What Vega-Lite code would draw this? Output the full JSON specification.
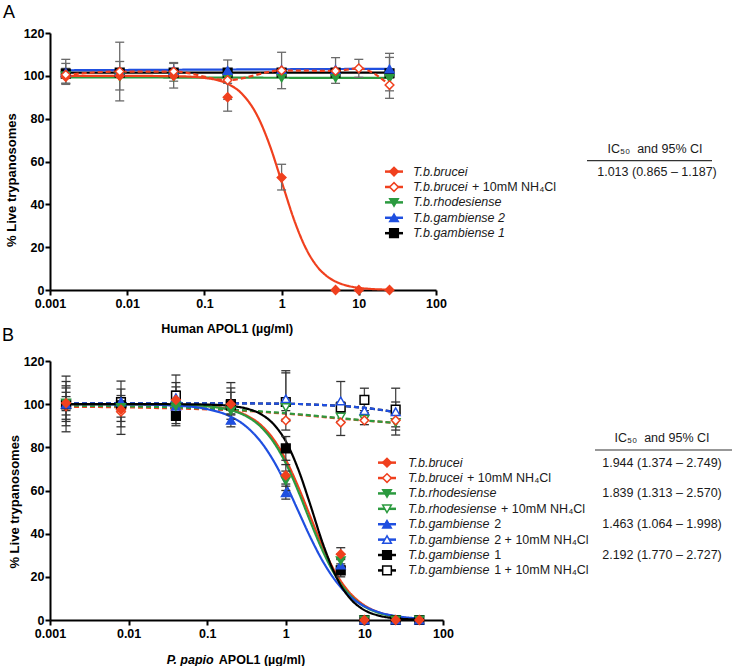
{
"$schema": "https://vega.github.io/schema/vega-lite/v6.json",
"background": "white",
"padding": {"left": 2, "top": 4, "right": 0, "bottom": 0},
"bounds": "flush",
"spacing": 71,
"config": {
  "view": {"stroke": null},
  "axis": {"domainColor": "#000", "domainWidth": 2, "tickColor": "#000", "tickWidth": 2, "tickSize": 5, "labelFont": "Liberation Sans", "labelFontSize": 12.5, "labelFontWeight": "bold", "labelColor": "#000", "titleFont": "Liberation Sans", "titleFontSize": 12.5, "titleFontWeight": "bold", "titleColor": "#000", "grid": false, "labelFlush": false, "labelOverlap": false},
  "axisY": {"labelPadding": 1},
  "axisX": {"labelPadding": 2}
},
"datasets": {
  "ptsA": [
    {"s":"gamb1","x":0.0016,"y":101},{"s":"gamb1","x":0.008,"y":101.5},{"s":"gamb1","x":0.04,"y":101.5},{"s":"gamb1","x":0.2,"y":101.5},{"s":"gamb1","x":1,"y":101.5},{"s":"gamb1","x":5,"y":101.5},{"s":"gamb1","x":25,"y":101.2},
    {"s":"rhod","x":0.0016,"y":100},{"s":"rhod","x":0.008,"y":99.5},{"s":"rhod","x":0.04,"y":99.5},{"s":"rhod","x":0.2,"y":99},{"s":"rhod","x":1,"y":99},{"s":"rhod","x":5,"y":99},{"s":"rhod","x":25,"y":98.8},
    {"s":"gamb2","x":0.0016,"y":101.5},{"s":"gamb2","x":0.008,"y":102},{"s":"gamb2","x":0.04,"y":102.5},{"s":"gamb2","x":0.2,"y":102.5},{"s":"gamb2","x":1,"y":103},{"s":"gamb2","x":5,"y":103},{"s":"gamb2","x":25,"y":103.2},
    {"s":"brucei","x":0.0016,"y":99.5},{"s":"brucei","x":0.008,"y":100},{"s":"brucei","x":0.04,"y":100},{"s":"brucei","x":0.2,"y":90},{"s":"brucei","x":1,"y":52.5},{"s":"brucei","x":5,"y":0},{"s":"brucei","x":10,"y":0},{"s":"brucei","x":25,"y":0},
    {"s":"bruceiN","x":0.0016,"y":100.5},{"s":"bruceiN","x":0.008,"y":102},{"s":"bruceiN","x":0.04,"y":102},{"s":"bruceiN","x":0.2,"y":98},{"s":"bruceiN","x":1,"y":102.5},{"s":"bruceiN","x":5,"y":102.3},{"s":"bruceiN","x":10,"y":103.5},{"s":"bruceiN","x":25,"y":95.7}
  ],
  "lineA": [
    {"s":"gamb1","x":0.0016,"y":101.5},{"s":"gamb1","x":25,"y":101.5},
    {"s":"rhod","x":0.0016,"y":99.3},{"s":"rhod","x":25,"y":99.0},
    {"s":"gamb2","x":0.0016,"y":102.6},{"s":"gamb2","x":25,"y":103.3},
    {"s":"bruceiN","x":0.0016,"y":100.5},{"s":"bruceiN","x":0.008,"y":102},{"s":"bruceiN","x":0.04,"y":102},{"s":"bruceiN","x":0.2,"y":98},{"s":"bruceiN","x":1,"y":102.5},{"s":"bruceiN","x":5,"y":102.3},{"s":"bruceiN","x":10,"y":103.5},{"s":"bruceiN","x":25,"y":95.7},
    {"s":"brucei","x":0.0016,"y":100},{"s":"brucei","x":0.01,"y":99.99},{"s":"brucei","x":0.05,"y":99.76},{"s":"brucei","x":0.1,"y":99.03},{"s":"brucei","x":0.2,"y":96.25},{"s":"brucei","x":0.3,"y":91.94},{"s":"brucei","x":0.5,"y":80.41},{"s":"brucei","x":0.7,"y":67.68},{"s":"brucei","x":1,"y":50.65},{"s":"brucei","x":1.5,"y":31.32},{"s":"brucei","x":2,"y":20.42},{"s":"brucei","x":3,"y":10.23},{"s":"brucei","x":4,"y":6.03},{"s":"brucei","x":5,"y":3.94},{"s":"brucei","x":7,"y":2.05},{"s":"brucei","x":10,"y":1.02},{"s":"brucei","x":15,"y":0.45},{"s":"brucei","x":25,"y":0.16}
  ],
  "errA": [
    {"s":"brucei","x":0.0016,"lo":96.5,"hi":103.5},{"s":"brucei","x":0.008,"lo":93.4,"hi":106.7},{"s":"brucei","x":0.04,"lo":94.3,"hi":105.8},{"s":"brucei","x":0.2,"lo":83.5,"hi":96.5},{"s":"brucei","x":1,"lo":46.7,"hi":58.7},
    {"s":"bruceiN","x":0.0016,"lo":96,"hi":105.8},{"s":"bruceiN","x":0.008,"lo":88.3,"hi":115.7},{"s":"bruceiN","x":0.04,"lo":97.5,"hi":106.2},{"s":"bruceiN","x":0.2,"lo":89,"hi":107.4},{"s":"bruceiN","x":1,"lo":94,"hi":111},{"s":"bruceiN","x":5,"lo":96.5,"hi":108.5},{"s":"bruceiN","x":10,"lo":99.3,"hi":107.7},{"s":"bruceiN","x":25,"lo":89.5,"hi":101.9},
    {"s":"gamb1","x":0.0016,"lo":96.5,"hi":107.7},{"s":"gamb1","x":25,"lo":93,"hi":110.5},
    {"s":"gamb2","x":25,"lo":99,"hi":108.6}
  ],
  "ptsB": [
    {"s":"gamb1N","x":0.0016,"y":100},{"s":"gamb1N","x":0.008,"y":101},{"s":"gamb1N","x":0.04,"y":104},{"s":"gamb1N","x":0.2,"y":100},{"s":"gamb1N","x":1,"y":101},{"s":"gamb1N","x":5,"y":98.5},{"s":"gamb1N","x":10,"y":102},{"s":"gamb1N","x":25,"y":97.5},
    {"s":"gamb2N","x":0.0016,"y":100},{"s":"gamb2N","x":0.008,"y":101},{"s":"gamb2N","x":0.04,"y":103},{"s":"gamb2N","x":0.2,"y":100},{"s":"gamb2N","x":1,"y":102.5},{"s":"gamb2N","x":5,"y":101.5},{"s":"gamb2N","x":10,"y":97},{"s":"gamb2N","x":25,"y":96.5},
    {"s":"rhodN","x":0.0016,"y":99.5},{"s":"rhodN","x":0.008,"y":98},{"s":"rhodN","x":0.04,"y":98},{"s":"rhodN","x":0.2,"y":97.5},{"s":"rhodN","x":1,"y":98.5},{"s":"rhodN","x":5,"y":94},{"s":"rhodN","x":10,"y":93},{"s":"rhodN","x":25,"y":91.5},
    {"s":"bruceiN","x":0.0016,"y":99},{"s":"bruceiN","x":0.008,"y":96.5},{"s":"bruceiN","x":0.04,"y":97},{"s":"bruceiN","x":0.2,"y":99.5},{"s":"bruceiN","x":1,"y":92.5},{"s":"bruceiN","x":5,"y":91.5},{"s":"bruceiN","x":10,"y":92.5},{"s":"bruceiN","x":25,"y":92.5},
    {"s":"gamb1","x":0.0016,"y":100},{"s":"gamb1","x":0.008,"y":99.5},{"s":"gamb1","x":0.04,"y":94.5},{"s":"gamb1","x":0.2,"y":99.5},{"s":"gamb1","x":1,"y":79.5},{"s":"gamb1","x":5,"y":23},{"s":"gamb1","x":10,"y":0},{"s":"gamb1","x":25,"y":0},{"s":"gamb1","x":50,"y":0},
    {"s":"gamb2","x":0.0016,"y":100},{"s":"gamb2","x":0.008,"y":101},{"s":"gamb2","x":0.04,"y":99},{"s":"gamb2","x":0.2,"y":92.5},{"s":"gamb2","x":1,"y":59},{"s":"gamb2","x":5,"y":25.5},{"s":"gamb2","x":10,"y":0},{"s":"gamb2","x":25,"y":0},{"s":"gamb2","x":50,"y":0},
    {"s":"rhod","x":0.0016,"y":100.5},{"s":"rhod","x":0.008,"y":98.5},{"s":"rhod","x":0.04,"y":99},{"s":"rhod","x":0.2,"y":97},{"s":"rhod","x":1,"y":64.5},{"s":"rhod","x":5,"y":27.5},{"s":"rhod","x":10,"y":0},{"s":"rhod","x":25,"y":0},{"s":"rhod","x":50,"y":0},
    {"s":"brucei","x":0.0016,"y":100.5},{"s":"brucei","x":0.008,"y":97.5},{"s":"brucei","x":0.04,"y":102},{"s":"brucei","x":0.2,"y":100},{"s":"brucei","x":1,"y":67},{"s":"brucei","x":5,"y":30.5},{"s":"brucei","x":10,"y":0},{"s":"brucei","x":25,"y":0},{"s":"brucei","x":50,"y":0}
  ],
  "lineB": [
    {"s":"gamb1N","x":0.0016,"y":100.4},{"s":"gamb1N","x":0.1,"y":100.4},{"s":"gamb1N","x":1,"y":100.2},{"s":"gamb1N","x":3,"y":99.6},{"s":"gamb1N","x":5,"y":99.2},{"s":"gamb1N","x":10,"y":98.3},{"s":"gamb1N","x":25,"y":96.3},
    {"s":"bruceiN","x":0.0016,"y":98.8},{"s":"bruceiN","x":0.01,"y":98.5},{"s":"bruceiN","x":0.04,"y":98},{"s":"bruceiN","x":0.2,"y":97.2},{"s":"bruceiN","x":1,"y":95.6},{"s":"bruceiN","x":5,"y":93.3},{"s":"bruceiN","x":10,"y":92.4},{"s":"bruceiN","x":25,"y":91.3},
    {"s":"rhodN","x":0.0016,"y":99.3},{"s":"rhodN","x":0.01,"y":99},{"s":"rhodN","x":0.04,"y":98.5},{"s":"rhodN","x":0.2,"y":97.5},{"s":"rhodN","x":1,"y":95.8},{"s":"rhodN","x":5,"y":93.5},{"s":"rhodN","x":10,"y":92.5},{"s":"rhodN","x":25,"y":91.3},
    {"s":"gamb2N","x":0.0016,"y":100.4},{"s":"gamb2N","x":0.1,"y":100.4},{"s":"gamb2N","x":1,"y":100.2},{"s":"gamb2N","x":3,"y":99.6},{"s":"gamb2N","x":5,"y":99.2},{"s":"gamb2N","x":10,"y":98.3},{"s":"gamb2N","x":25,"y":96.3},
    {"s":"brucei","x":0.0016,"y":100},{"s":"brucei","x":0.01,"y":99.98},{"s":"brucei","x":0.05,"y":99.7},{"s":"brucei","x":0.1,"y":99.14},{"s":"brucei","x":0.2,"y":97.4},{"s":"brucei","x":0.3,"y":95.2},{"s":"brucei","x":0.5,"y":89.8},{"s":"brucei","x":0.7,"y":83.7},{"s":"brucei","x":1,"y":74.3},{"s":"brucei","x":1.5,"y":60.2},{"s":"brucei","x":2,"y":48.9},{"s":"brucei","x":3,"y":33.3},{"s":"brucei","x":4,"y":24},{"s":"brucei","x":5,"y":18.1},{"s":"brucei","x":7,"y":11.4},{"s":"brucei","x":10,"y":6.8},{"s":"brucei","x":15,"y":3.66},{"s":"brucei","x":25,"y":1.65},{"s":"brucei","x":50,"y":0.55},
    {"s":"rhod","x":0.0016,"y":100},{"s":"rhod","x":0.01,"y":99.98},{"s":"rhod","x":0.05,"y":99.69},{"s":"rhod","x":0.1,"y":99.06},{"s":"rhod","x":0.2,"y":97.2},{"s":"rhod","x":0.3,"y":94.8},{"s":"rhod","x":0.5,"y":88.9},{"s":"rhod","x":0.7,"y":82.4},{"s":"rhod","x":1,"y":72.6},{"s":"rhod","x":1.5,"y":58.1},{"s":"rhod","x":2,"y":46.6},{"s":"rhod","x":3,"y":31.4},{"s":"rhod","x":4,"y":22.4},{"s":"rhod","x":5,"y":16.8},{"s":"rhod","x":7,"y":10.5},{"s":"rhod","x":10,"y":6.24},{"s":"rhod","x":15,"y":3.36},{"s":"rhod","x":25,"y":1.51},{"s":"rhod","x":50,"y":0.5},
    {"s":"gamb2","x":0.0016,"y":99.99},{"s":"gamb2","x":0.01,"y":99.91},{"s":"gamb2","x":0.05,"y":99.12},{"s":"gamb2","x":0.1,"y":97.7},{"s":"gamb2","x":0.2,"y":94.2},{"s":"gamb2","x":0.3,"y":90.2},{"s":"gamb2","x":0.5,"y":81.8},{"s":"gamb2","x":0.7,"y":73.7},{"s":"gamb2","x":1,"y":63},{"s":"gamb2","x":1.5,"y":49.1},{"s":"gamb2","x":2,"y":39.2},{"s":"gamb2","x":3,"y":26.8},{"s":"gamb2","x":4,"y":19.7},{"s":"gamb2","x":5,"y":15.2},{"s":"gamb2","x":7,"y":10.05},{"s":"gamb2","x":10,"y":6.37},{"s":"gamb2","x":15,"y":3.7},{"s":"gamb2","x":25,"y":1.85},{"s":"gamb2","x":50,"y":0.71},
    {"s":"gamb1","x":0.0016,"y":100},{"s":"gamb1","x":0.01,"y":100},{"s":"gamb1","x":0.05,"y":99.95},{"s":"gamb1","x":0.1,"y":99.79},{"s":"gamb1","x":0.2,"y":99.17},{"s":"gamb1","x":0.3,"y":98.16},{"s":"gamb1","x":0.5,"y":95.05},{"s":"gamb1","x":0.7,"y":90.7},{"s":"gamb1","x":1,"y":82.8},{"s":"gamb1","x":1.5,"y":68.1},{"s":"gamb1","x":2,"y":54.6},{"s":"gamb1","x":3,"y":34.8},{"s":"gamb1","x":4,"y":23.1},{"s":"gamb1","x":5,"y":16.1},{"s":"gamb1","x":7,"y":8.93},{"s":"gamb1","x":10,"y":4.58},{"s":"gamb1","x":15,"y":2.09},{"s":"gamb1","x":25,"y":0.76},{"s":"gamb1","x":50,"y":0.19}
  ],
  "errB": [
    {"s":"rhodN","x":0.0016,"lo":87.2,"hi":113},{"s":"bruceiN","x":0.0016,"lo":90,"hi":110.5},{"s":"gamb2N","x":0.0016,"lo":92,"hi":108.5},{"s":"gamb2","x":0.0016,"lo":93,"hi":107.5},{"s":"gamb1","x":0.0016,"lo":95,"hi":105.5},{"s":"brucei","x":0.0016,"lo":97,"hi":103.5},
    {"s":"rhodN","x":0.008,"lo":86,"hi":110.7},{"s":"bruceiN","x":0.008,"lo":89.5,"hi":107},{"s":"gamb2","x":0.008,"lo":92,"hi":104},{"s":"brucei","x":0.008,"lo":94,"hi":102},
    {"s":"gamb1N","x":0.04,"lo":90,"hi":113.5},{"s":"gamb2N","x":0.04,"lo":91,"hi":110},{"s":"brucei","x":0.04,"lo":92.5,"hi":108},{"s":"rhod","x":0.04,"lo":95,"hi":106},
    {"s":"gamb1N","x":0.2,"lo":91,"hi":110},{"s":"gamb2N","x":0.2,"lo":93,"hi":107.5},{"s":"brucei","x":0.2,"lo":95,"hi":105.5},{"s":"gamb2","x":0.2,"lo":89.5,"hi":95.5},
    {"s":"gamb2N","x":1,"lo":93,"hi":115.5},{"s":"gamb1N","x":1,"lo":92,"hi":114.5},{"s":"gamb1","x":1,"lo":74,"hi":85},{"s":"brucei","x":1,"lo":62,"hi":72},{"s":"gamb2","x":1,"lo":56,"hi":63},{"s":"bruceiN","x":1,"lo":88,"hi":97},{"s":"rhod","x":1,"lo":60,"hi":69},
    {"s":"gamb2N","x":5,"lo":92,"hi":110.5},{"s":"bruceiN","x":5,"lo":85.5,"hi":97.5},{"s":"brucei","x":5,"lo":28,"hi":33.5},{"s":"gamb1","x":5,"lo":20,"hi":26},{"s":"gamb2","x":5,"lo":23,"hi":28.5},{"s":"rhod","x":5,"lo":25,"hi":30.5},{"s":"gamb1N","x":5,"lo":96,"hi":101},
    {"s":"gamb1N","x":10,"lo":97,"hi":107.4},{"s":"rhodN","x":10,"lo":90.5,"hi":96},{"s":"gamb2N","x":10,"lo":95,"hi":101},
    {"s":"gamb1N","x":25,"lo":85.7,"hi":107.4},{"s":"rhodN","x":25,"lo":88,"hi":96},{"s":"bruceiN","x":25,"lo":89.5,"hi":95},{"s":"gamb2N","x":25,"lo":93,"hi":101}
  ],
  "legA": [
    {"s":"brucei","row":1,"name":"T.b.brucei","suffix":"","ic":"1.013 (0.865 – 1.187)"},
    {"s":"bruceiN","row":2,"name":"T.b.brucei","suffix":"+ 10mM NH₄Cl","ic":""},
    {"s":"rhod","row":3,"name":"T.b.rhodesiense","suffix":"","ic":""},
    {"s":"gamb2","row":4,"name":"T.b.gambiense 2","suffix":"","ic":""},
    {"s":"gamb1","row":5,"name":"T.b.gambiense 1","suffix":"","ic":""}
  ],
  "legB": [
    {"s":"brucei","row":1,"name":"T.b.brucei","suffix":"","ic":"1.944 (1.374 – 2.749)"},
    {"s":"bruceiN","row":2,"name":"T.b.brucei","suffix":"+ 10mM NH₄Cl","ic":""},
    {"s":"rhod","row":3,"name":"T.b.rhodesiense","suffix":"","ic":"1.839 (1.313 – 2.570)"},
    {"s":"rhodN","row":4,"name":"T.b.rhodesiense","suffix":"+ 10mM NH₄Cl","ic":""},
    {"s":"gamb2","row":5,"name":"T.b.gambiense","suffix":"2","ic":"1.463 (1.064 – 1.998)"},
    {"s":"gamb2N","row":6,"name":"T.b.gambiense","suffix":"2 + 10mM NH₄Cl","ic":""},
    {"s":"gamb1","row":7,"name":"T.b.gambiense","suffix":"1","ic":"2.192 (1.770 – 2.727)"},
    {"s":"gamb1N","row":8,"name":"T.b.gambiense","suffix":"1 + 10mM NH₄Cl","ic":""}
  ],
  "hdr": [{"t":"IC₅₀\u00a0 and 95% CI"}],
  "ytitle": [{"t":"% Live trypanosomes"}],
  "xtB": [{"a":"P. papio","b":"APOL1 (µg/ml)"}]
},
"vconcat": [
{
  "width": 386, "height": 257,
  "title": {"text": "A", "anchor": "start", "frame": "group", "dx": -47, "offset": -9, "baseline": "alphabetic", "font": "Liberation Sans", "fontSize": 18, "fontWeight": "normal", "color": "#000"},
  "layer": [
    {"layer": [
      {"data": {"name": "lineA"}, "mark": {"type": "line", "strokeWidth": 2.2, "interpolate": "monotone"},
       "encoding": {
         "x": {"field": "x", "type": "quantitative", "scale": {"type": "log", "domain": [0.001, 100], "nice": false}, "axis": {"values": [0.001, 0.01, 0.1, 1, 10, 100], "labelExpr": "toString(datum.value)", "title": "Human APOL1 (µg/ml)", "titleX": 176.7, "titleY": 38, "titleBaseline": "middle", "titleAlign": "center"}},
         "y": {"field": "y", "type": "quantitative", "scale": {"domain": [0, 120], "nice": false, "zero": false}, "axis": {"values": [0, 20, 40, 60, 80, 100, 120], "title": null}},
         "stroke": {"field": "s", "type": "nominal", "scale": {"domain": ["brucei","bruceiN","rhod","rhodN","gamb2","gamb2N","gamb1","gamb1N"], "range": ["#f0401e","#f0401e","#2b9a3f","#2b9a3f","#1f4fe0","#1f4fe0","#000000","#000000"]}, "legend": null},
         "strokeDash": {"field": "s", "type": "nominal", "scale": {"domain": ["brucei","bruceiN","rhod","rhodN","gamb2","gamb2N","gamb1","gamb1N"], "range": [[1,0],[5,3],[1,0],[5,3],[1,0],[5,3],[1,0],[5,3]]}, "legend": null}
       }},
      {"data": {"name": "errA"}, "mark": {"type": "rule", "color": "#6a6a6a", "strokeWidth": 1.3},
       "encoding": {
         "x": {"field": "x", "type": "quantitative", "scale": {"type": "log", "domain": [0.001, 100], "nice": false}, "axis": {"values": [0.001, 0.01, 0.1, 1, 10, 100], "labelExpr": "toString(datum.value)", "title": "Human APOL1 (µg/ml)", "titleX": 176.7, "titleY": 38, "titleBaseline": "middle", "titleAlign": "center"}},
         "y": {"field": "lo", "type": "quantitative", "scale": {"domain": [0, 120], "nice": false, "zero": false}, "axis": {"values": [0, 20, 40, 60, 80, 100, 120], "title": null}},
         "y2": {"field": "hi"}
       }},
      {"data": {"name": "errA"}, "transform": [{"fold": ["lo", "hi"], "as": ["k", "v"]}], "mark": {"type": "tick", "orient": "horizontal", "size": 9, "thickness": 1.3, "color": "#6a6a6a", "opacity": 1},
       "encoding": {
         "x": {"field": "x", "type": "quantitative", "scale": {"type": "log", "domain": [0.001, 100], "nice": false}, "axis": {"values": [0.001, 0.01, 0.1, 1, 10, 100], "labelExpr": "toString(datum.value)", "title": "Human APOL1 (µg/ml)", "titleX": 176.7, "titleY": 38, "titleBaseline": "middle", "titleAlign": "center"}},
         "y": {"field": "v", "type": "quantitative", "scale": {"domain": [0, 120], "nice": false, "zero": false}, "axis": {"values": [0, 20, 40, 60, 80, 100, 120], "title": null}}
       }},
      {"data": {"name": "ptsA"}, "mark": {"type": "point", "filled": true, "size": 75, "strokeWidth": 1.5, "opacity": 1},
       "encoding": {
         "x": {"field": "x", "type": "quantitative", "scale": {"type": "log", "domain": [0.001, 100], "nice": false}, "axis": {"values": [0.001, 0.01, 0.1, 1, 10, 100], "labelExpr": "toString(datum.value)", "title": "Human APOL1 (µg/ml)", "titleX": 176.7, "titleY": 38, "titleBaseline": "middle", "titleAlign": "center"}},
         "y": {"field": "y", "type": "quantitative", "scale": {"domain": [0, 120], "nice": false, "zero": false}, "axis": {"values": [0, 20, 40, 60, 80, 100, 120], "title": null}},
         "shape": {"field": "s", "type": "nominal", "scale": {"domain": ["brucei","bruceiN","rhod","rhodN","gamb2","gamb2N","gamb1","gamb1N"], "range": ["diamond","diamond","triangle-down","triangle-down","triangle-up","triangle-up","square","square"]}, "legend": null},
         "fill": {"field": "s", "type": "nominal", "scale": {"domain": ["brucei","bruceiN","rhod","rhodN","gamb2","gamb2N","gamb1","gamb1N"], "range": ["#f0401e","#ffffff","#2b9a3f","#ffffff","#1f4fe0","#ffffff","#000000","#ffffff"]}, "legend": null},
         "stroke": {"field": "s", "type": "nominal", "scale": {"domain": ["brucei","bruceiN","rhod","rhodN","gamb2","gamb2N","gamb1","gamb1N"], "range": ["#f0401e","#f0401e","#2b9a3f","#2b9a3f","#1f4fe0","#1f4fe0","#000000","#000000"]}, "legend": null}
       }}
    ]},
    {"data": {"name": "legA"}, "layer": [
      {"mark": {"type": "rule", "strokeWidth": 2.5},
       "encoding": {
         "x": {"datum": 335, "type": "quantitative", "scale": {"domain": [0, 386], "nice": false, "zero": false}, "axis": null},
         "x2": {"datum": 353},
         "y": {"field": "row", "type": "quantitative", "scale": {"domain": [-8, 8.69], "nice": false, "zero": false, "reverse": true}, "axis": null},
         "stroke": {"field": "s", "type": "nominal", "scale": {"domain": ["brucei","bruceiN","rhod","rhodN","gamb2","gamb2N","gamb1","gamb1N"], "range": ["#f0401e","#f0401e","#2b9a3f","#2b9a3f","#1f4fe0","#1f4fe0","#000000","#000000"]}, "legend": null}
       }},
      {"mark": {"type": "point", "filled": true, "size": 75, "strokeWidth": 1.5, "opacity": 1},
       "encoding": {
         "x": {"datum": 344, "type": "quantitative", "scale": {"domain": [0, 386], "nice": false, "zero": false}, "axis": null},
         "y": {"field": "row", "type": "quantitative", "scale": {"domain": [-8, 8.69], "nice": false, "zero": false, "reverse": true}, "axis": null},
         "shape": {"field": "s", "type": "nominal", "scale": {"domain": ["brucei","bruceiN","rhod","rhodN","gamb2","gamb2N","gamb1","gamb1N"], "range": ["diamond","diamond","triangle-down","triangle-down","triangle-up","triangle-up","square","square"]}, "legend": null},
         "fill": {"field": "s", "type": "nominal", "scale": {"domain": ["brucei","bruceiN","rhod","rhodN","gamb2","gamb2N","gamb1","gamb1N"], "range": ["#f0401e","#ffffff","#2b9a3f","#ffffff","#1f4fe0","#ffffff","#000000","#ffffff"]}, "legend": null},
         "stroke": {"field": "s", "type": "nominal", "scale": {"domain": ["brucei","bruceiN","rhod","rhodN","gamb2","gamb2N","gamb1","gamb1N"], "range": ["#f0401e","#f0401e","#2b9a3f","#2b9a3f","#1f4fe0","#1f4fe0","#000000","#000000"]}, "legend": null}
       }},
      {"mark": {"type": "text", "align": "left", "baseline": "middle", "font": "Liberation Sans", "fontSize": 12.5, "fontStyle": "italic", "color": "#1a1a1a"},
       "encoding": {
         "x": {"datum": 363, "type": "quantitative", "scale": {"domain": [0, 386], "nice": false, "zero": false}, "axis": null},
         "y": {"field": "row", "type": "quantitative", "scale": {"domain": [-8, 8.69], "nice": false, "zero": false, "reverse": true}, "axis": null},
         "text": {"field": "name"}
       }},
      {"transform": [{"filter": "datum.suffix != ''"}],
       "mark": {"type": "text", "align": "left", "baseline": "middle", "font": "Liberation Sans", "fontSize": 12.5, "color": "#1a1a1a", "dx": 59.1},
       "encoding": {
         "x": {"datum": 363, "type": "quantitative", "scale": {"domain": [0, 386], "nice": false, "zero": false}, "axis": null},
         "y": {"field": "row", "type": "quantitative", "scale": {"domain": [-8, 8.69], "nice": false, "zero": false, "reverse": true}, "axis": null},
         "text": {"field": "suffix"}
       }},
      {"transform": [{"filter": "datum.ic != ''"}],
       "mark": {"type": "text", "align": "center", "baseline": "middle", "font": "Liberation Sans", "fontSize": 12.5, "color": "#1a1a1a"},
       "encoding": {
         "x": {"datum": 607, "type": "quantitative", "scale": {"domain": [0, 386], "nice": false, "zero": false}, "axis": null},
         "y": {"field": "row", "type": "quantitative", "scale": {"domain": [-8, 8.69], "nice": false, "zero": false, "reverse": true}, "axis": null},
         "text": {"field": "ic"}
       }},
      {"data": {"name": "hdr"},
       "mark": {"type": "text", "align": "center", "baseline": "middle", "font": "Liberation Sans", "fontSize": 12.5, "color": "#1a1a1a"},
       "encoding": {
         "x": {"datum": 605, "type": "quantitative", "scale": {"domain": [0, 386], "nice": false, "zero": false}, "axis": null},
         "y": {"datum": -0.45, "type": "quantitative", "scale": {"domain": [-8, 8.69], "nice": false, "zero": false, "reverse": true}, "axis": null},
         "text": {"field": "t"}
       }},
      {"data": {"name": "hdr"},
       "mark": {"type": "rule", "strokeWidth": 1.2, "color": "#333"},
       "encoding": {
         "x": {"datum": 537, "type": "quantitative", "scale": {"domain": [0, 386], "nice": false, "zero": false}, "axis": null},
         "x2": {"datum": 662},
         "y": {"datum": 0.29, "type": "quantitative", "scale": {"domain": [-8, 8.69], "nice": false, "zero": false, "reverse": true}, "axis": null}
       }},
      {"data": {"name": "ytitle"},
       "mark": {"type": "text", "align": "center", "baseline": "middle", "angle": 270, "font": "Liberation Sans", "fontSize": 13, "fontWeight": "bold", "color": "#000"},
       "encoding": {
         "x": {"datum": -37.7, "type": "quantitative", "scale": {"domain": [0, 386], "nice": false, "zero": false}, "axis": null},
         "y": {"datum": 1.55, "type": "quantitative", "scale": {"domain": [-8, 8.69], "nice": false, "zero": false, "reverse": true}, "axis": null},
         "text": {"field": "t"}
       }}
    ]}
  ],
  "resolve": {"scale": {"x": "independent", "y": "independent"}}
},
{
  "width": 393, "height": 259,
  "title": {"text": "B", "anchor": "start", "frame": "group", "dx": -48, "offset": -4, "baseline": "alphabetic", "font": "Liberation Sans", "fontSize": 18, "fontWeight": "normal", "color": "#000"},
  "layer": [
    {"layer": [
      {"data": {"name": "lineB"}, "mark": {"type": "line", "strokeWidth": 2.2, "interpolate": "monotone"},
       "encoding": {
         "x": {"field": "x", "type": "quantitative", "scale": {"type": "log", "domain": [0.001, 100], "nice": false}, "axis": {"values": [0.001, 0.01, 0.1, 1, 10, 100], "labelExpr": "toString(datum.value)", "title": null}},
         "y": {"field": "y", "type": "quantitative", "scale": {"domain": [0, 120], "nice": false, "zero": false}, "axis": {"values": [0, 20, 40, 60, 80, 100, 120], "title": null}},
         "stroke": {"field": "s", "type": "nominal", "scale": {"domain": ["brucei","bruceiN","rhod","rhodN","gamb2","gamb2N","gamb1","gamb1N"], "range": ["#f0401e","#f0401e","#2b9a3f","#2b9a3f","#1f4fe0","#1f4fe0","#000000","#000000"]}, "legend": null},
         "strokeDash": {"field": "s", "type": "nominal", "scale": {"domain": ["brucei","bruceiN","rhod","rhodN","gamb2","gamb2N","gamb1","gamb1N"], "range": [[1,0],[5,3],[1,0],[5,3],[1,0],[5,3],[1,0],[5,3]]}, "legend": null}
       }},
      {"data": {"name": "errB"}, "mark": {"type": "rule", "color": "#4a4a4a", "strokeWidth": 1.3},
       "encoding": {
         "x": {"field": "x", "type": "quantitative", "scale": {"type": "log", "domain": [0.001, 100], "nice": false}, "axis": {"values": [0.001, 0.01, 0.1, 1, 10, 100], "labelExpr": "toString(datum.value)", "title": null}},
         "y": {"field": "lo", "type": "quantitative", "scale": {"domain": [0, 120], "nice": false, "zero": false}, "axis": {"values": [0, 20, 40, 60, 80, 100, 120], "title": null}},
         "y2": {"field": "hi"}
       }},
      {"data": {"name": "errB"}, "transform": [{"fold": ["lo", "hi"], "as": ["k", "v"]}], "mark": {"type": "tick", "orient": "horizontal", "size": 9, "thickness": 1.3, "color": "#333", "opacity": 1},
       "encoding": {
         "x": {"field": "x", "type": "quantitative", "scale": {"type": "log", "domain": [0.001, 100], "nice": false}, "axis": {"values": [0.001, 0.01, 0.1, 1, 10, 100], "labelExpr": "toString(datum.value)", "title": null}},
         "y": {"field": "v", "type": "quantitative", "scale": {"domain": [0, 120], "nice": false, "zero": false}, "axis": {"values": [0, 20, 40, 60, 80, 100, 120], "title": null}}
       }},
      {"data": {"name": "ptsB"}, "mark": {"type": "point", "filled": true, "size": 75, "strokeWidth": 1.5, "opacity": 1},
       "encoding": {
         "x": {"field": "x", "type": "quantitative", "scale": {"type": "log", "domain": [0.001, 100], "nice": false}, "axis": {"values": [0.001, 0.01, 0.1, 1, 10, 100], "labelExpr": "toString(datum.value)", "title": null}},
         "y": {"field": "y", "type": "quantitative", "scale": {"domain": [0, 120], "nice": false, "zero": false}, "axis": {"values": [0, 20, 40, 60, 80, 100, 120], "title": null}},
         "shape": {"field": "s", "type": "nominal", "scale": {"domain": ["brucei","bruceiN","rhod","rhodN","gamb2","gamb2N","gamb1","gamb1N"], "range": ["diamond","diamond","triangle-down","triangle-down","triangle-up","triangle-up","square","square"]}, "legend": null},
         "fill": {"field": "s", "type": "nominal", "scale": {"domain": ["brucei","bruceiN","rhod","rhodN","gamb2","gamb2N","gamb1","gamb1N"], "range": ["#f0401e","#ffffff","#2b9a3f","#ffffff","#1f4fe0","#ffffff","#000000","#ffffff"]}, "legend": null},
         "stroke": {"field": "s", "type": "nominal", "scale": {"domain": ["brucei","bruceiN","rhod","rhodN","gamb2","gamb2N","gamb1","gamb1N"], "range": ["#f0401e","#f0401e","#2b9a3f","#2b9a3f","#1f4fe0","#1f4fe0","#000000","#000000"]}, "legend": null}
       }}
    ]},
    {"data": {"name": "legB"}, "layer": [
      {"mark": {"type": "rule", "strokeWidth": 2.5},
       "encoding": {
         "x": {"datum": 328, "type": "quantitative", "scale": {"domain": [0, 393], "nice": false, "zero": false}, "axis": null},
         "x2": {"datum": 346},
         "y": {"field": "row", "type": "quantitative", "scale": {"domain": [-5.6, 11.22], "nice": false, "zero": false, "reverse": true}, "axis": null},
         "stroke": {"field": "s", "type": "nominal", "scale": {"domain": ["brucei","bruceiN","rhod","rhodN","gamb2","gamb2N","gamb1","gamb1N"], "range": ["#f0401e","#f0401e","#2b9a3f","#2b9a3f","#1f4fe0","#1f4fe0","#000000","#000000"]}, "legend": null}
       }},
      {"mark": {"type": "point", "filled": true, "size": 75, "strokeWidth": 1.5, "opacity": 1},
       "encoding": {
         "x": {"datum": 337, "type": "quantitative", "scale": {"domain": [0, 393], "nice": false, "zero": false}, "axis": null},
         "y": {"field": "row", "type": "quantitative", "scale": {"domain": [-5.6, 11.22], "nice": false, "zero": false, "reverse": true}, "axis": null},
         "shape": {"field": "s", "type": "nominal", "scale": {"domain": ["brucei","bruceiN","rhod","rhodN","gamb2","gamb2N","gamb1","gamb1N"], "range": ["diamond","diamond","triangle-down","triangle-down","triangle-up","triangle-up","square","square"]}, "legend": null},
         "fill": {"field": "s", "type": "nominal", "scale": {"domain": ["brucei","bruceiN","rhod","rhodN","gamb2","gamb2N","gamb1","gamb1N"], "range": ["#f0401e","#ffffff","#2b9a3f","#ffffff","#1f4fe0","#ffffff","#000000","#ffffff"]}, "legend": null},
         "stroke": {"field": "s", "type": "nominal", "scale": {"domain": ["brucei","bruceiN","rhod","rhodN","gamb2","gamb2N","gamb1","gamb1N"], "range": ["#f0401e","#f0401e","#2b9a3f","#2b9a3f","#1f4fe0","#1f4fe0","#000000","#000000"]}, "legend": null}
       }},
      {"mark": {"type": "text", "align": "left", "baseline": "middle", "font": "Liberation Sans", "fontSize": 12.5, "fontStyle": "italic", "color": "#1a1a1a"},
       "encoding": {
         "x": {"datum": 358, "type": "quantitative", "scale": {"domain": [0, 393], "nice": false, "zero": false}, "axis": null},
         "y": {"field": "row", "type": "quantitative", "scale": {"domain": [-5.6, 11.22], "nice": false, "zero": false, "reverse": true}, "axis": null},
         "text": {"field": "name"}
       }},
      {"transform": [{"filter": "datum.suffix != '' && datum.name == 'T.b.brucei'"}],
       "mark": {"type": "text", "align": "left", "baseline": "middle", "font": "Liberation Sans", "fontSize": 12.5, "color": "#1a1a1a", "dx": 59.1},
       "encoding": {
         "x": {"datum": 358, "type": "quantitative", "scale": {"domain": [0, 393], "nice": false, "zero": false}, "axis": null},
         "y": {"field": "row", "type": "quantitative", "scale": {"domain": [-5.6, 11.22], "nice": false, "zero": false, "reverse": true}, "axis": null},
         "text": {"field": "suffix"}
       }},
      {"transform": [{"filter": "datum.suffix != '' && datum.name == 'T.b.rhodesiense'"}],
       "mark": {"type": "text", "align": "left", "baseline": "middle", "font": "Liberation Sans", "fontSize": 12.5, "color": "#1a1a1a", "dx": 93.1},
       "encoding": {
         "x": {"datum": 358, "type": "quantitative", "scale": {"domain": [0, 393], "nice": false, "zero": false}, "axis": null},
         "y": {"field": "row", "type": "quantitative", "scale": {"domain": [-5.6, 11.22], "nice": false, "zero": false, "reverse": true}, "axis": null},
         "text": {"field": "suffix"}
       }},
      {"transform": [{"filter": "datum.suffix != '' && datum.name == 'T.b.gambiense'"}],
       "mark": {"type": "text", "align": "left", "baseline": "middle", "font": "Liberation Sans", "fontSize": 12.5, "color": "#1a1a1a", "dx": 86.2},
       "encoding": {
         "x": {"datum": 358, "type": "quantitative", "scale": {"domain": [0, 393], "nice": false, "zero": false}, "axis": null},
         "y": {"field": "row", "type": "quantitative", "scale": {"domain": [-5.6, 11.22], "nice": false, "zero": false, "reverse": true}, "axis": null},
         "text": {"field": "suffix"}
       }},
      {"transform": [{"filter": "datum.ic != ''"}],
       "mark": {"type": "text", "align": "center", "baseline": "middle", "font": "Liberation Sans", "fontSize": 12.5, "color": "#1a1a1a"},
       "encoding": {
         "x": {"datum": 612, "type": "quantitative", "scale": {"domain": [0, 393], "nice": false, "zero": false}, "axis": null},
         "y": {"field": "row", "type": "quantitative", "scale": {"domain": [-5.6, 11.22], "nice": false, "zero": false, "reverse": true}, "axis": null},
         "text": {"field": "ic"}
       }},
      {"data": {"name": "hdr"},
       "mark": {"type": "text", "align": "center", "baseline": "middle", "font": "Liberation Sans", "fontSize": 12.5, "color": "#1a1a1a"},
       "encoding": {
         "x": {"datum": 612, "type": "quantitative", "scale": {"domain": [0, 393], "nice": false, "zero": false}, "axis": null},
         "y": {"datum": -0.58, "type": "quantitative", "scale": {"domain": [-5.6, 11.22], "nice": false, "zero": false, "reverse": true}, "axis": null},
         "text": {"field": "t"}
       }},
      {"data": {"name": "hdr"},
       "mark": {"type": "rule", "strokeWidth": 1.2, "color": "#333"},
       "encoding": {
         "x": {"datum": 545, "type": "quantitative", "scale": {"domain": [0, 393], "nice": false, "zero": false}, "axis": null},
         "x2": {"datum": 682},
         "y": {"datum": 0.18, "type": "quantitative", "scale": {"domain": [-5.6, 11.22], "nice": false, "zero": false, "reverse": true}, "axis": null}
       }},
      {"data": {"name": "ytitle"},
       "mark": {"type": "text", "align": "center", "baseline": "middle", "angle": 270, "font": "Liberation Sans", "fontSize": 13, "fontWeight": "bold", "color": "#000"},
       "encoding": {
         "x": {"datum": -35, "type": "quantitative", "scale": {"domain": [0, 393], "nice": false, "zero": false}, "axis": null},
         "y": {"datum": 3.54, "type": "quantitative", "scale": {"domain": [-5.6, 11.22], "nice": false, "zero": false, "reverse": true}, "axis": null},
         "text": {"field": "t"}
       }},
      {"data": {"name": "xtB"},
       "mark": {"type": "text", "align": "left", "baseline": "middle", "font": "Liberation Sans", "fontSize": 12.5, "fontWeight": "bold", "fontStyle": "italic", "color": "#000"},
       "encoding": {
         "x": {"datum": 116.7, "type": "quantitative", "scale": {"domain": [0, 393], "nice": false, "zero": false}, "axis": null},
         "y": {"datum": 13.82, "type": "quantitative", "scale": {"domain": [-5.6, 11.22], "nice": false, "zero": false, "reverse": true}, "axis": null},
         "text": {"field": "a"}
       }},
      {"data": {"name": "xtB"},
       "mark": {"type": "text", "align": "left", "baseline": "middle", "font": "Liberation Sans", "fontSize": 12.5, "fontWeight": "bold", "color": "#000"},
       "encoding": {
         "x": {"datum": 168.8, "type": "quantitative", "scale": {"domain": [0, 393], "nice": false, "zero": false}, "axis": null},
         "y": {"datum": 13.82, "type": "quantitative", "scale": {"domain": [-5.6, 11.22], "nice": false, "zero": false, "reverse": true}, "axis": null},
         "text": {"field": "b"}
       }}
    ]}
  ],
  "resolve": {"scale": {"x": "independent", "y": "independent"}}
}
]
}
